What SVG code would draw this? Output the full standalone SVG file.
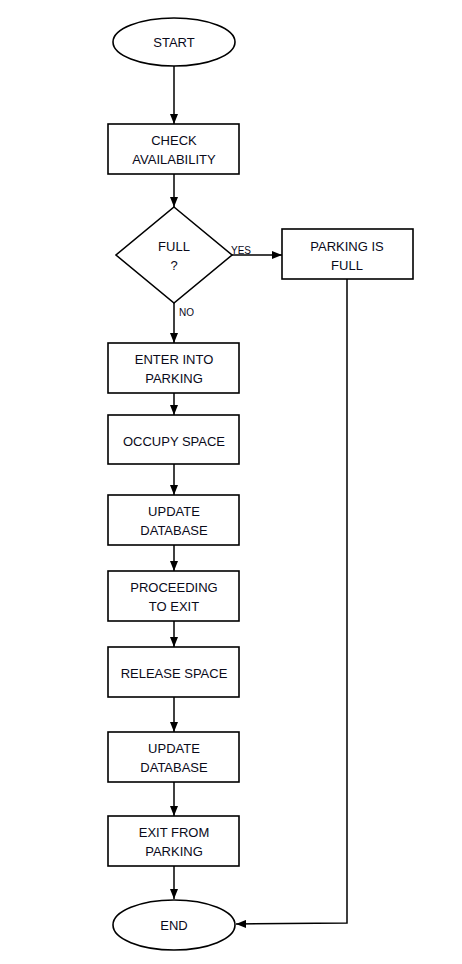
<svg xmlns="http://www.w3.org/2000/svg" width="462" height="964" viewBox="0 0 462 964">
<defs>
<style>
.shape{fill:#fff;stroke:#000;stroke-width:1.6}
.t{font-family:"Liberation Sans",Arial,sans-serif;font-size:13px;fill:#0a0a1a;text-anchor:middle}
.lbl{font-family:"Liberation Sans",Arial,sans-serif;font-size:10px;fill:#0a0a1a}
.c{fill:none;stroke:#000;stroke-width:1.5}
</style>
<marker id="arr" markerUnits="userSpaceOnUse" markerWidth="10" markerHeight="8" refX="10" refY="4" orient="auto">
<path d="M0,0 L10,4 L0,8 z" fill="#000"/>
</marker>
</defs>
<rect width="462" height="964" fill="#fff"/>
<g id="connectors">
<line class="c" x1="174" y1="66" x2="174" y2="124" marker-end="url(#arr)"/>
<line class="c" x1="174" y1="174" x2="174" y2="207" marker-end="url(#arr)"/>
<line class="c" x1="174" y1="303" x2="174" y2="343" marker-end="url(#arr)"/>
<line class="c" x1="232" y1="255" x2="282" y2="255" marker-end="url(#arr)"/>
<line class="c" x1="174" y1="393" x2="174" y2="415" marker-end="url(#arr)"/>
<line class="c" x1="174" y1="464" x2="174" y2="495" marker-end="url(#arr)"/>
<line class="c" x1="174" y1="545" x2="174" y2="571" marker-end="url(#arr)"/>
<line class="c" x1="174" y1="621" x2="174" y2="647" marker-end="url(#arr)"/>
<line class="c" x1="174" y1="697" x2="174" y2="732" marker-end="url(#arr)"/>
<line class="c" x1="174" y1="782" x2="174" y2="816" marker-end="url(#arr)"/>
<line class="c" x1="174" y1="866" x2="174" y2="899" marker-end="url(#arr)"/>
<polyline class="c" points="347,279 347,923 236,924" marker-end="url(#arr)"/>
<text class="lbl" x="231" y="254">YES</text>
<text class="lbl" x="179" y="316">NO</text>
</g>
<g id="start">
<ellipse class="shape" cx="174" cy="42" rx="61" ry="24"/>
<text class="t" x="174" y="47">START</text>
</g>
<g id="check">
<rect class="shape" x="108" y="124" width="131" height="50"/>
<text class="t" x="174" y="145">CHECK</text>
<text class="t" x="174" y="164">AVAILABILITY</text>
</g>
<g id="full">
<polygon class="shape" points="174,207 232,255 174,303 116,255"/>
<text class="t" x="174" y="251">FULL</text>
<text class="t" x="174" y="270">?</text>
</g>
<g id="parking-full">
<rect class="shape" x="282" y="229" width="131" height="50"/>
<text class="t" x="347" y="251">PARKING IS</text>
<text class="t" x="347" y="270">FULL</text>
</g>
<g id="enter">
<rect class="shape" x="108" y="343" width="131" height="50"/>
<text class="t" x="174" y="364">ENTER INTO</text>
<text class="t" x="174" y="383">PARKING</text>
</g>
<g id="occupy">
<rect class="shape" x="108" y="415" width="131" height="49"/>
<text class="t" x="174" y="446">OCCUPY SPACE</text>
</g>
<g id="update1">
<rect class="shape" x="108" y="495" width="131" height="50"/>
<text class="t" x="174" y="516">UPDATE</text>
<text class="t" x="174" y="535">DATABASE</text>
</g>
<g id="proceed">
<rect class="shape" x="108" y="571" width="131" height="50"/>
<text class="t" x="174" y="592">PROCEEDING</text>
<text class="t" x="174" y="611">TO EXIT</text>
</g>
<g id="release">
<rect class="shape" x="108" y="647" width="131" height="50"/>
<text class="t" x="174" y="678">RELEASE SPACE</text>
</g>
<g id="update2">
<rect class="shape" x="108" y="732" width="131" height="50"/>
<text class="t" x="174" y="753">UPDATE</text>
<text class="t" x="174" y="772">DATABASE</text>
</g>
<g id="exit">
<rect class="shape" x="108" y="816" width="131" height="50"/>
<text class="t" x="174" y="837">EXIT FROM</text>
<text class="t" x="174" y="856">PARKING</text>
</g>
<g id="end">
<ellipse class="shape" cx="174" cy="925" rx="61" ry="25"/>
<text class="t" x="174" y="930">END</text>
</g>
</svg>
